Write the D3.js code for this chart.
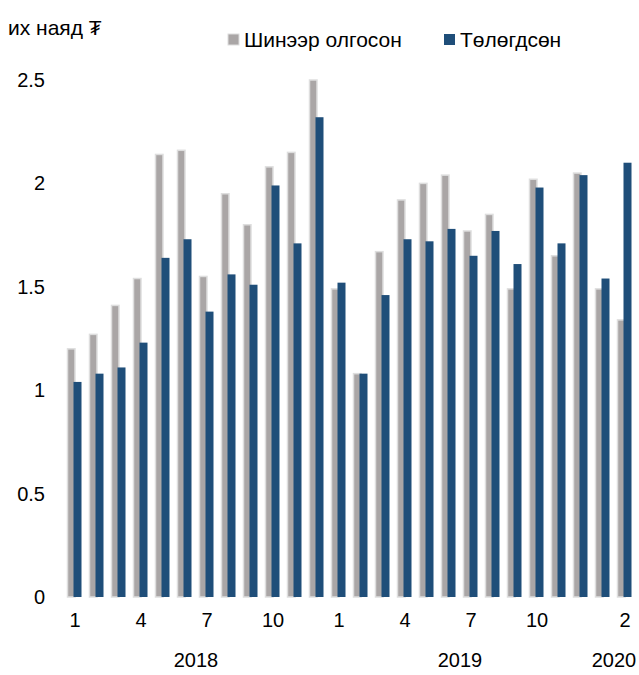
<!DOCTYPE html>
<html>
<head>
<meta charset="utf-8">
<script src="https://cdn.jsdelivr.net/npm/d3@7"></script>
<style>
  body { margin: 0; background: #fff; }
  text { font-family: "Liberation Sans", Arial, sans-serif; fill: #000; }
</style>
</head>
<body>
<svg id="chart"></svg>
<script>
// months Jan 2018 .. Feb 2020
const months = ["1","2","3","4","5","6","7","8","9","10","11","12",
                "1","2","3","4","5","6","7","8","9","10","11","12",
                "1","2"]
const years = [
  {label: "2018", start: 0, end: 12},
  {label: "2019", start: 12, end: 24},
  {label: "2020", start: 24, end: 26},
]
// Шинээр олгосон (new loans)
const newLoans = [1.20, 1.27, 1.41, 1.54, 2.14, 2.16, 1.55, 1.95, 1.80, 2.08, 2.15, 2.50,
                  1.49, 1.08, 1.67, 1.92, 2.00, 2.04, 1.77, 1.85, 1.49, 2.02, 1.65, 2.05,
                  1.49, 1.34]
// Төлөгдсөн (repaid)
const repaid = [1.04, 1.08, 1.11, 1.23, 1.64, 1.73, 1.38, 1.56, 1.51, 1.99, 1.71, 2.32,
                1.52, 1.08, 1.46, 1.73, 1.72, 1.78, 1.65, 1.77, 1.61, 1.98, 1.71, 2.04,
                1.54, 2.10]
const yTicks = [0, 0.5, 1, 1.5, 2, 2.5]
const tickMonths = [0, 3, 6, 9, 12, 15, 18, 21, 25]

const width = 639, height = 675
const margin = {top: 80, right: 3, bottom: 78, left: 64}

const svg = d3.select("#chart")
    .attr("width", width)
    .attr("height", height)

const xScale = d3.scaleBand()
    .domain(d3.range(months.length))
    .range([margin.left, width - margin.right])

const yScale = d3.scaleLinear()
    .domain([0, 2.5])
    .range([height - margin.bottom, margin.top])

// gray bars first, blue ones overlap them slightly
svg.append("g").selectAll("rect")
  .data(newLoans)
  .join("rect")
    .attr("x", (d, i) => xScale(i) + 3.5)
    .attr("width", 7.5)
    .attr("y", d => yScale(d))
    .attr("height", d => yScale(0) - yScale(d))
    .attr("fill", "#aaa6a6")
    .attr("stroke", "#dedede")
    .attr("stroke-width", 1.5)

svg.append("g").selectAll("rect")
  .data(repaid)
  .join("rect")
    .attr("x", (d, i) => xScale(i) + 9.5)
    .attr("width", 8)
    .attr("y", d => yScale(d))
    .attr("height", d => yScale(0) - yScale(d))
    .attr("fill", "#1f4e79")

// y axis, no line, just labels
const yAxis = svg.append("g")
    .attr("transform", `translate(${margin.left}, 0)`)
    .call(d3.axisLeft(yScale).tickValues(yTicks).tickSize(0).tickPadding(19)
      .tickFormat(d3.format("")))
yAxis.select(".domain").remove()
yAxis.selectAll("text")
    .style("font-size", "20px")
    .style("font-family", "Liberation Sans, Arial, sans-serif")

// month ticks
const xAxis = svg.append("g")
    .attr("transform", `translate(0, ${yScale(0)})`)
    .call(d3.axisBottom(xScale).tickValues(tickMonths).tickSize(0).tickPadding(16)
      .tickFormat(i => months[i]))
xAxis.select(".domain").remove()
xAxis.selectAll("text")
    .style("font-size", "20px")
    .style("font-family", "Liberation Sans, Arial, sans-serif")

// year labels centred under their months
svg.append("g").selectAll("text")
  .data(years)
  .join("text")
    .attr("x", d => (xScale(d.start) + xScale(d.end - 1) + xScale.bandwidth()) / 2)
    .attr("y", yScale(0) + 70)
    .attr("text-anchor", "middle")
    .style("font-size", "20px")
    .text(d => d.label)

// unit title
svg.append("text")
    .attr("x", 8)
    .attr("y", 35)
    .style("font-size", "21px")
    .text("их наяд ₮")

// legend
const legend = [
  {name: "Шинээр олгосон", color: "#aaa6a6", x: 228},
  {name: "Төлөгдсөн", color: "#1f4e79", x: 444},
]
const lg = svg.append("g").selectAll("g")
  .data(legend)
  .join("g")
    .attr("transform", d => `translate(${d.x}, 34)`)
lg.append("rect")
    .attr("width", 11)
    .attr("height", 11)
    .attr("fill", d => d.color)
    .attr("stroke", d => d.color === "#aaa6a6" ? "#dedede" : "none")
lg.append("text")
    .attr("x", 16)
    .attr("y", 13)
    .style("font-size", "21px")
    .text(d => d.name)
</script>
</body>
</html>
